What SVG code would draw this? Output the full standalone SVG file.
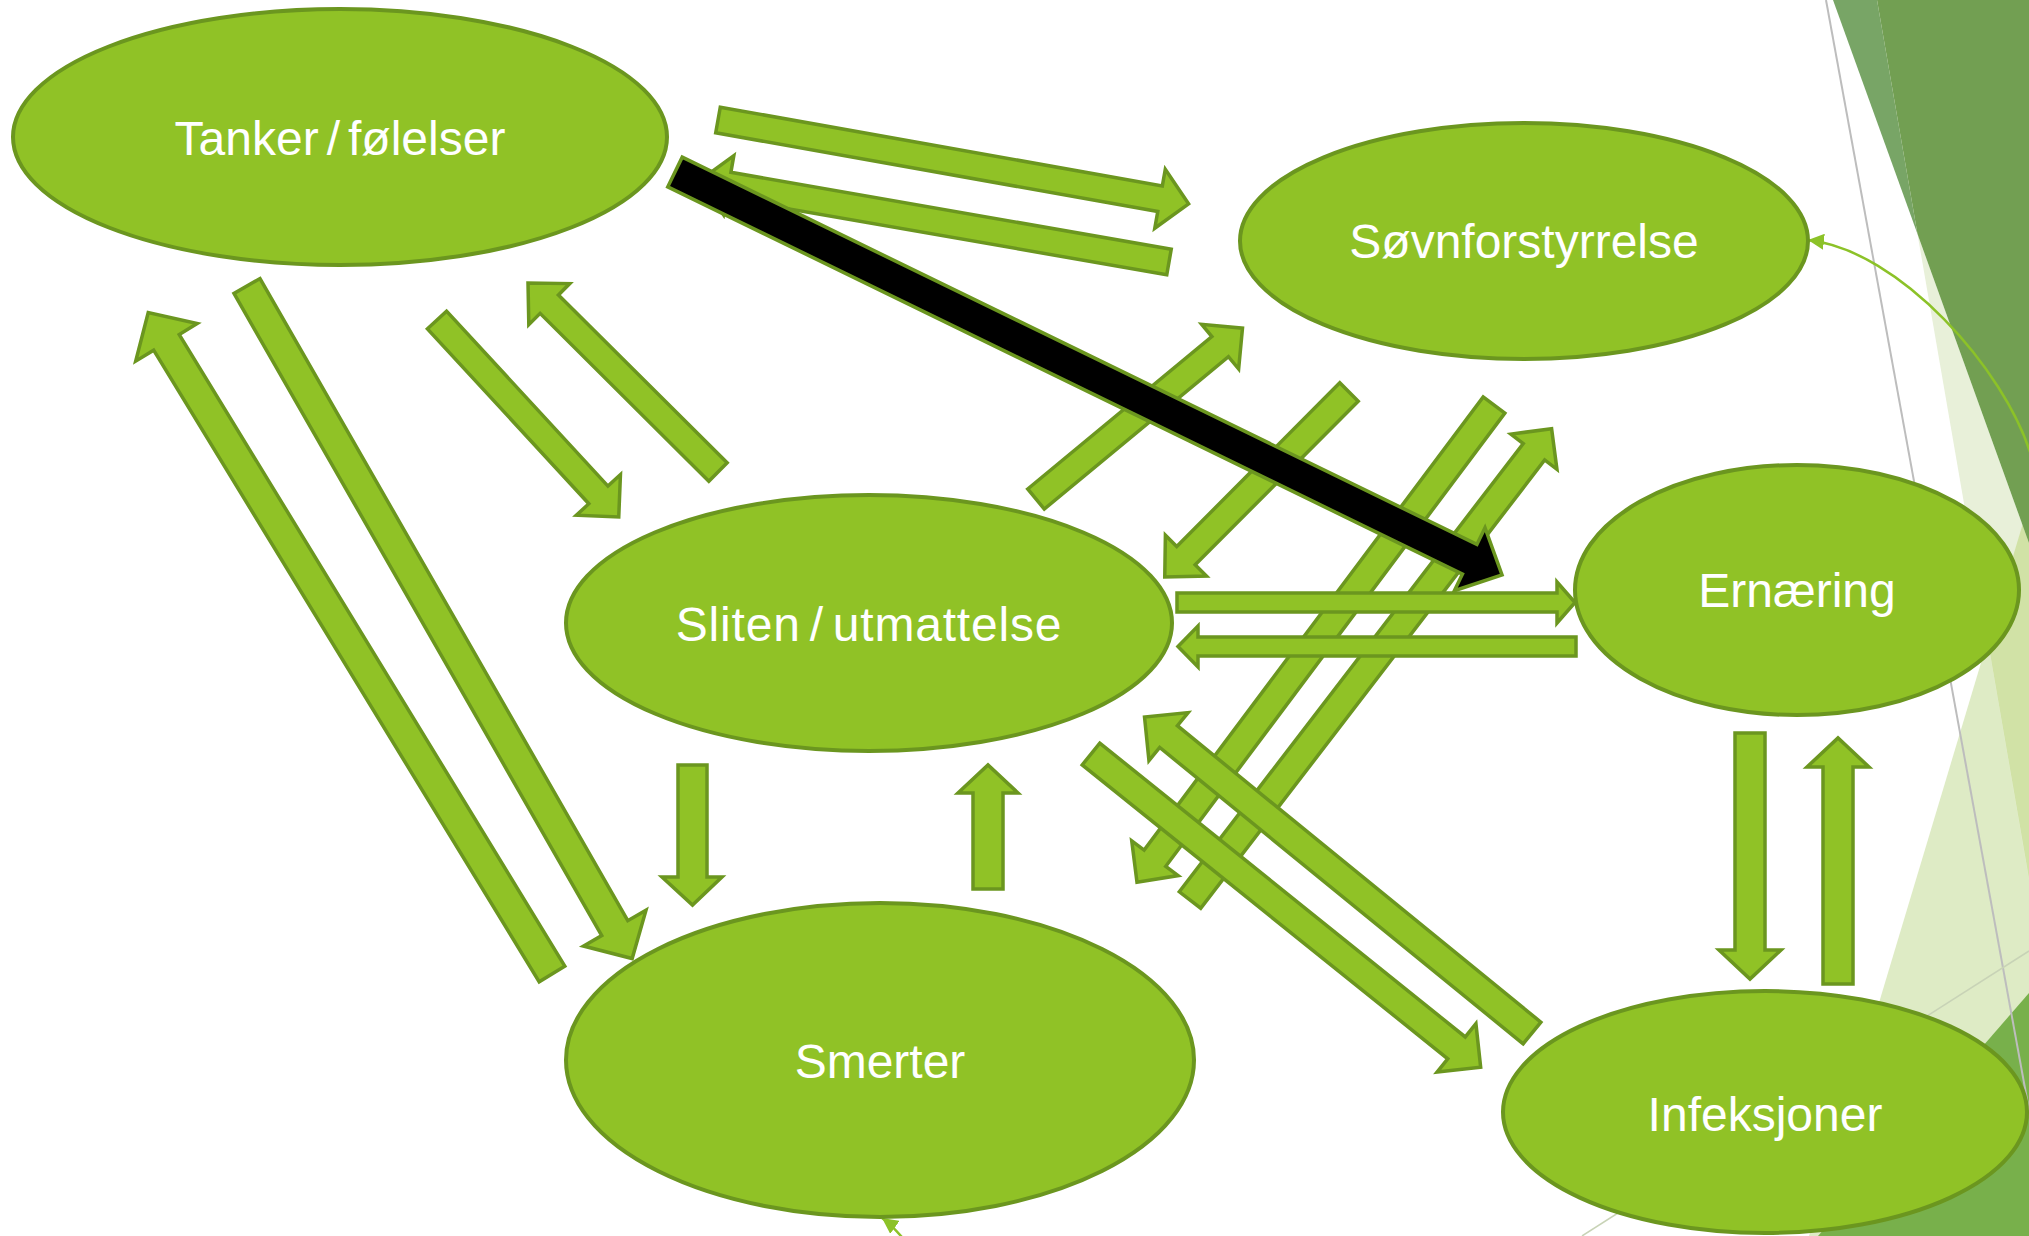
<svg xmlns="http://www.w3.org/2000/svg" width="2029" height="1236" viewBox="0 0 2029 1236">
  <defs>
    <style>
      .ar { fill: #90C226; stroke: #6B961F; stroke-width: 3.5; stroke-linejoin: miter; }
      .blk { fill: #000000; stroke: #6B961F; stroke-width: 3.5; stroke-linejoin: miter; }
      .node ellipse { fill: #90C226; stroke: #6B961F; stroke-width: 4; }
      .node text { font-family: "Liberation Sans", Arial, sans-serif; font-size: 48px; fill: #FFFFFF; text-anchor: middle; }
      .thin { fill: none; stroke: #8CC228; stroke-width: 2.5; }
    </style>
    <marker id="tip" viewBox="0 0 10 10" refX="10" refY="5" markerWidth="16" markerHeight="16" markerUnits="userSpaceOnUse" orient="auto">
      <path d="M0,0 L10,5 L0,10 z" fill="#8CC228"/>
    </marker>
  </defs>

  <!-- slide background with faceted triangles on the right -->
  <g id="background">
    <rect x="0" y="0" width="2029" height="1236" fill="#FFFFFF"/>
    <polygon points="2029,503 2029,1236 1809,1236" fill="#DEEBC5"/>
    <polygon points="1917.5,234 2029,543 2029,880" fill="#E8F0D9"/>
    <polygon points="2022.5,524.8 2029,543 2029,878.6 1987.8,640.4" fill="#D1E2A6"/>
    <polygon points="1833,0 1877,0 1917.5,234" fill="#78A566"/>
    <polygon points="1877,0 2029,0 2029,543 1917.5,234" fill="#729F52"/>
    <polygon points="2029,993 2029,1236 1818,1236" fill="#78B04B"/>
    <line x1="1826" y1="0" x2="2029" y2="1110" stroke="#BDBDBD" stroke-width="2"/>
    <line x1="1582" y1="1236" x2="2029" y2="951" stroke="#C8D3B6" stroke-width="1.5"/>
  </g>

  <g id="connectors">
    <!-- thin curved links -->
    <path class="thin" d="M 2031,455 C 2005,370 1900,250 1808,240" marker-end="url(#tip)"/>
    <path class="thin" d="M 906,1242 Q 893,1226 882,1218" marker-end="url(#tip)"/>

    <!-- Tanker/følelser <-> Søvnforstyrrelse -->
    <polygon class="ar" points="0,-13 449,-13 449,-30 478,0 449,30 449,13 0,13" transform="translate(718 120) rotate(10.1)"/>
    <polygon class="ar" points="0,-13 447,-13 447,-30 476,0 447,30 447,13 0,13" transform="translate(1169 262) rotate(189.9)"/>

    <!-- Tanker/følelser <-> Sliten/utmattelse -->
    <polygon class="ar" points="0,-13 238,-13 238,-30 268,0 238,30 238,13 0,13" transform="translate(437 320) rotate(47.3)"/>
    <polygon class="ar" points="0,-13 238,-13 238,-29 268,0 238,29 238,13 0,13" transform="translate(718 472) rotate(224.85)"/>

    <!-- Tanker/følelser <-> Smerter -->
    <polygon class="ar" points="0,-15 740,-15 740,-36 775,0 740,36 740,15 0,15" transform="translate(247 286) rotate(60.2)"/>
    <polygon class="ar" points="0,-15 740,-15 740,-36 775,0 740,36 740,15 0,15" transform="translate(552 974) rotate(238.6)"/>

    <!-- Sliten/utmattelse <-> Søvnforstyrrelse -->
    <polygon class="ar" points="0,-13 239,-13 239,-29 268,0 239,29 239,13 0,13" transform="translate(1036 499) rotate(-39.6)"/>
    <polygon class="ar" points="0,-13 231,-13 231,-29 261,0 231,29 231,13 0,13" transform="translate(1349 392) rotate(134.9)"/>

    <!-- Søvnforstyrrelse <-> Smerter -->
    <polygon class="ar" points="0,-13.5 566,-13.5 566,-29 596,0 566,29 566,13.5 0,13.5" transform="translate(1494 405) rotate(126.8)"/>
    <polygon class="ar" points="0,-13.5 565,-13.5 565,-29 594,0 565,29 565,13.5 0,13.5" transform="translate(1190 900) rotate(-52.5)"/>

    <!-- Sliten/utmattelse <-> Infeksjoner -->
    <polygon class="ar" points="0,-14 469,-14 469,-31 500,0 469,31 469,14 0,14" transform="translate(1091 754) rotate(38.8)"/>
    <polygon class="ar" points="0,-14 469,-14 469,-31 500,0 469,31 469,14 0,14" transform="translate(1532 1033) rotate(219.2)"/>

    <!-- Sliten/utmattelse <-> Ernæring -->
    <polygon class="ar" points="1177,593 1557,593 1557,582 1575,602.5 1557,623 1557,612 1177,612"/>
    <polygon class="ar" points="1576,637 1198,637 1198,626 1178,646.5 1198,667 1198,656 1576,656"/>

    <!-- Sliten/utmattelse <-> Smerter -->
    <polygon class="ar" points="678,765 707,765 707,877 722,877 692.5,905 662,877 678,877"/>
    <polygon class="ar" points="973,889 1003,889 1003,793 1018,793 988,765 958,793 973,793"/>

    <!-- Ernæring <-> Infeksjoner -->
    <polygon class="ar" points="1735,733 1765,733 1765,950 1781,950 1750,979 1719,950 1735,950"/>
    <polygon class="ar" points="1823,984 1853,984 1853,767 1869,767 1838,738 1807,767 1823,767"/>

    <!-- highlighted link: Tanker/følelser -> Ernæring -->
    <polygon class="blk" points="0,-16.5 884,-16.5 884,-35 920,0 884,35 884,16.5 0,16.5" transform="translate(675 172) rotate(25.98)"/>
  </g>

  <g id="node-tanker" class="node">
    <ellipse cx="340" cy="137" rx="327" ry="128"/>
    <text x="340" y="155">Tanker<tspan dx="8">/</tspan><tspan dx="8">følelser</tspan></text>
  </g>
  <g id="node-sovn" class="node">
    <ellipse cx="1524" cy="241" rx="284" ry="118"/>
    <text x="1524" y="258">Søvnforstyrrelse</text>
  </g>
  <g id="node-sliten" class="node">
    <ellipse cx="869" cy="623" rx="303" ry="128"/>
    <text x="869" y="641" letter-spacing="0.8">Sliten<tspan dx="9">/</tspan><tspan dx="9">utmattelse</tspan></text>
  </g>
  <g id="node-ernaering" class="node">
    <ellipse cx="1797" cy="590" rx="222" ry="125"/>
    <text x="1797" y="607">Ernæring</text>
  </g>
  <g id="node-smerter" class="node">
    <ellipse cx="880" cy="1060" rx="314" ry="157"/>
    <text x="880" y="1078">Smerter</text>
  </g>
  <g id="node-infeksjoner" class="node">
    <ellipse cx="1765" cy="1112" rx="262" ry="121"/>
    <text x="1765" y="1131">Infeksjoner</text>
  </g>
</svg>
